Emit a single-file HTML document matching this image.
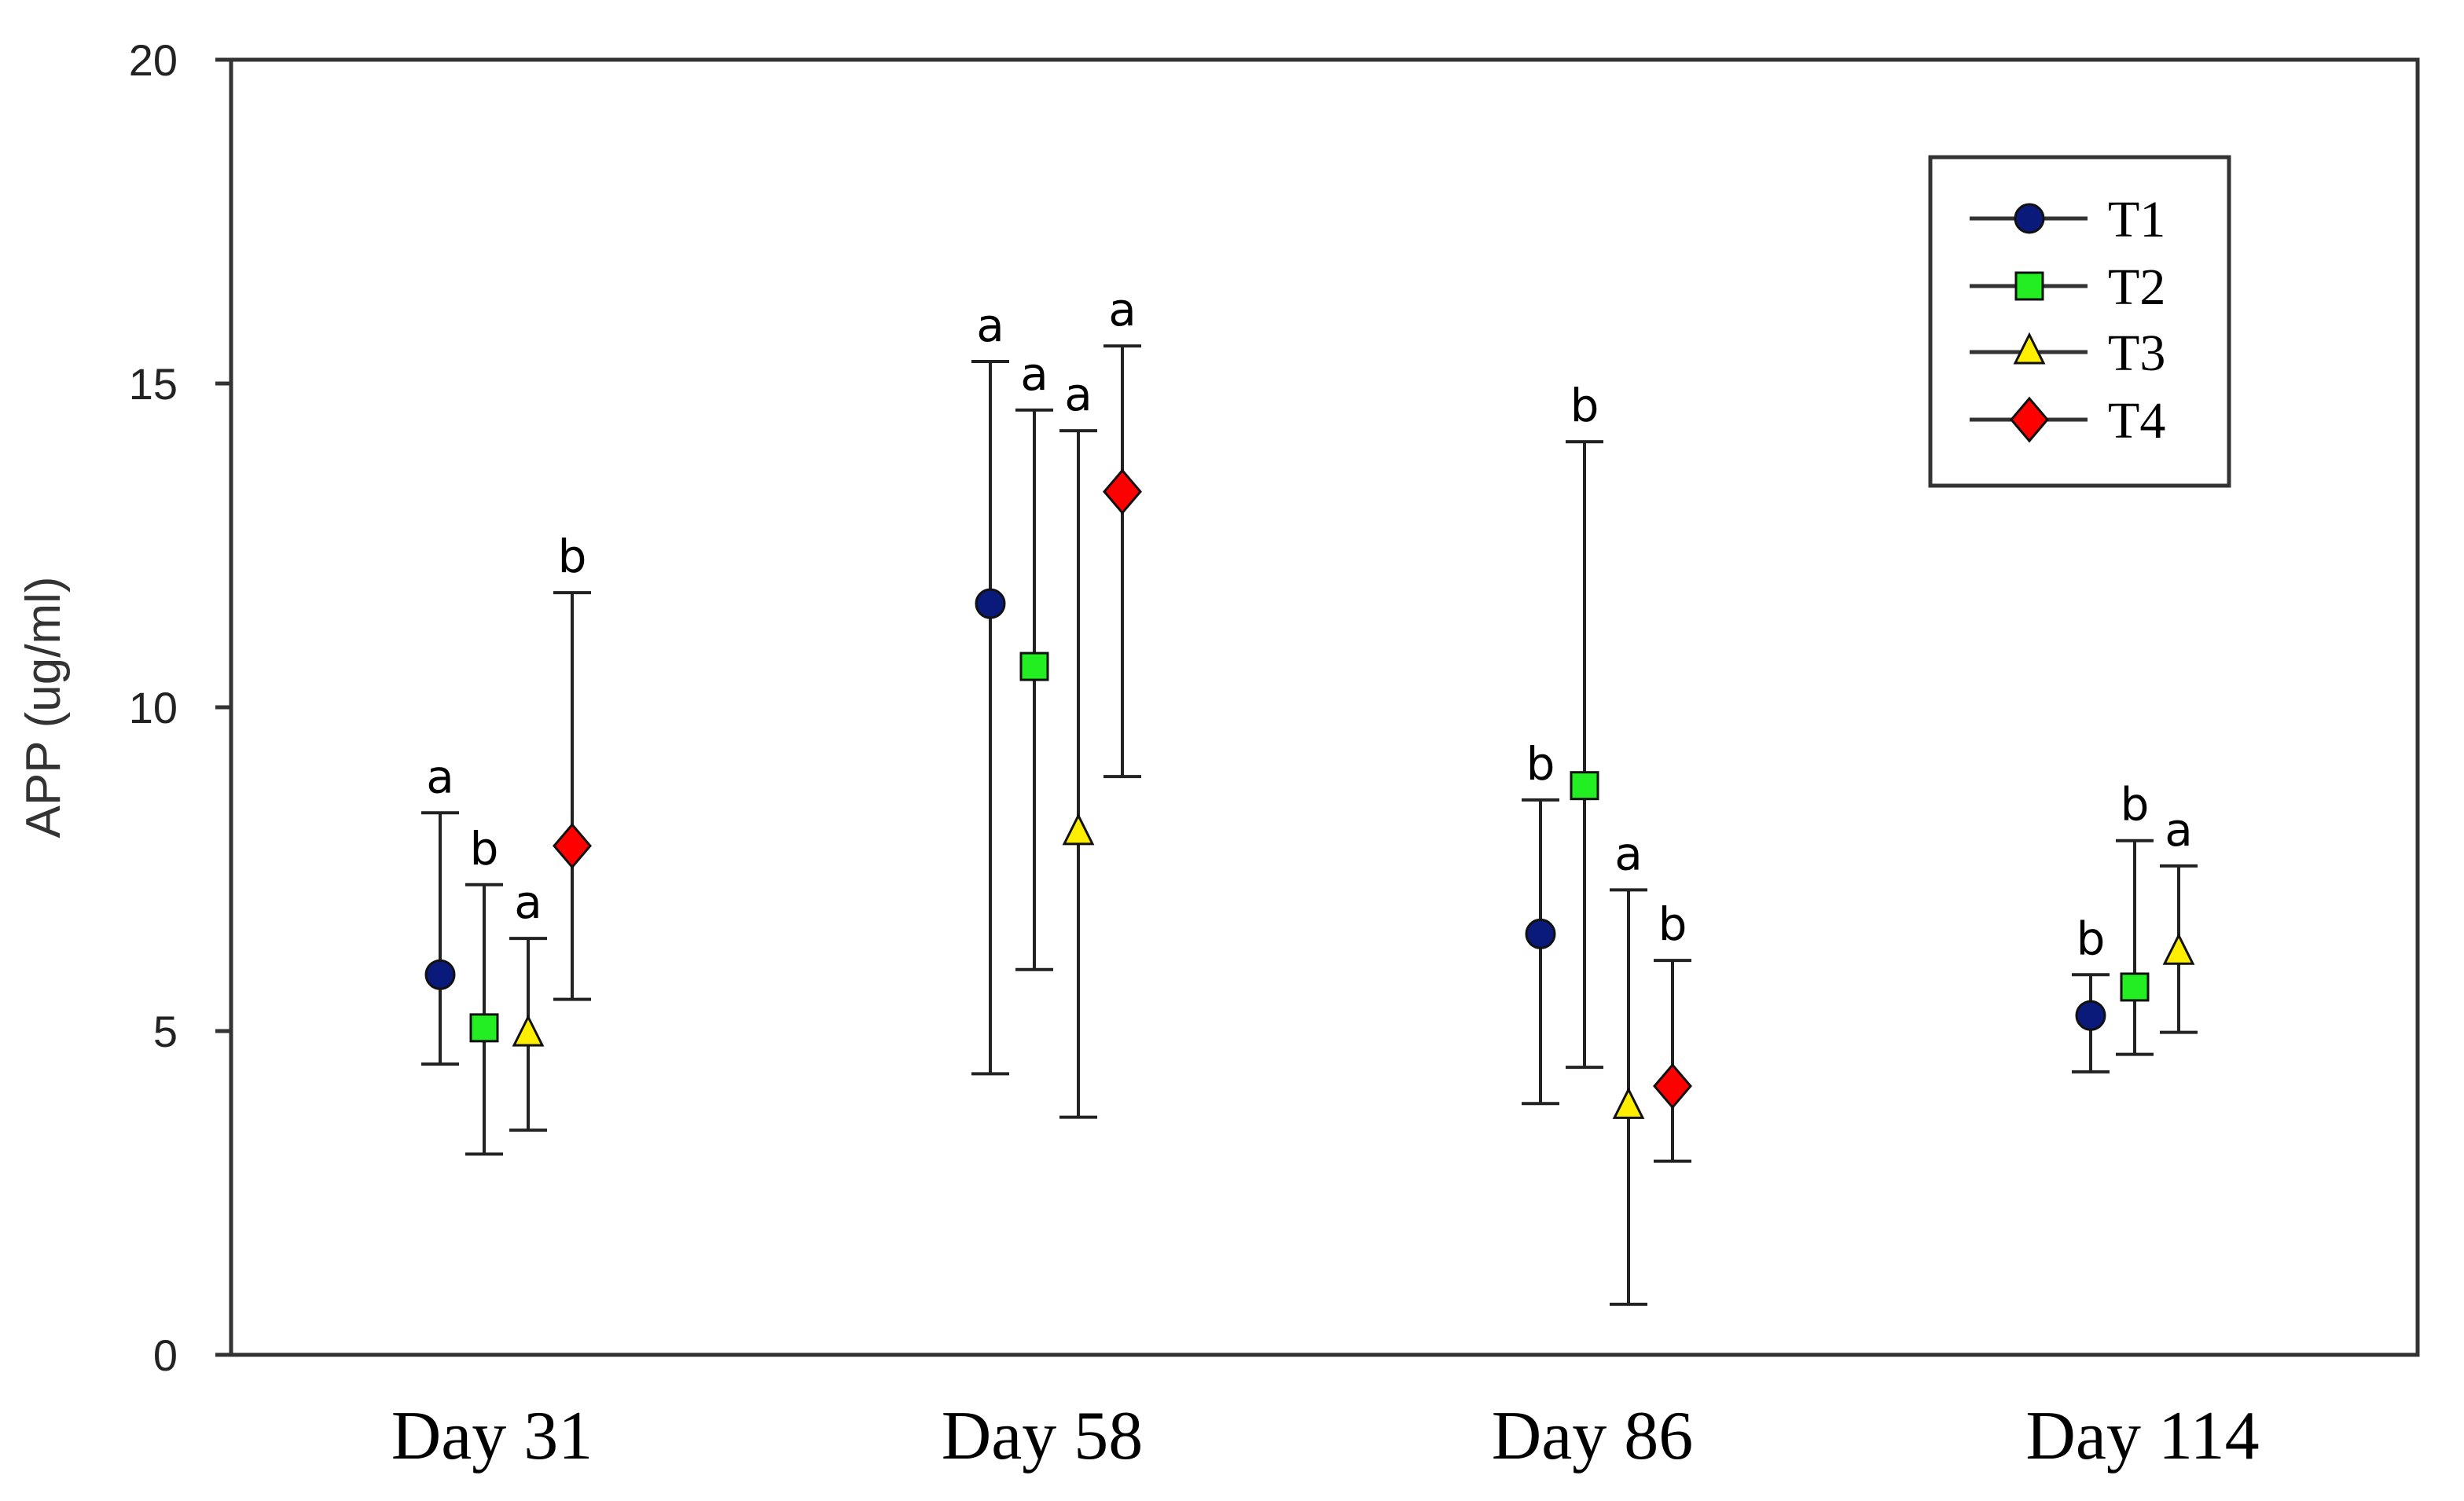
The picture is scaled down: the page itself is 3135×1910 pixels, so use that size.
<!DOCTYPE html>
<html><head><meta charset="utf-8"><style>
html,body{margin:0;padding:0;background:#fff;}
svg{display:block;}
</style></head><body>
<svg id="chart" width="3135" height="1910" viewBox="0 0 3135 1910" xmlns="http://www.w3.org/2000/svg">
<rect x="0" y="0" width="3135" height="1910" fill="#fff"/>
<g id="plot"></g>
</svg>
<script>
const categories = ["Day 31","Day 58","Day 86","Day 114"];
const seriesNames = ["T1","T2","T3","T4"];
const t1Mean = [5.87, 11.6, 6.5, 5.24];
const t1Hi   = [8.37, 15.34, 8.57, 5.87];
const t1Lo   = [4.49, 4.34, 3.88, 4.37];
const t2Mean = [5.05, 10.63, 8.79, 5.68];
const t2Hi   = [7.26, 14.59, 14.1, 7.94];
const t2Lo   = [3.1, 5.95, 4.44, 4.64];
const t3Mean = [4.95, 8.06, 3.83, 6.21];
const t3Hi   = [6.43, 14.27, 7.18, 7.55];
const t3Lo   = [3.47, 3.67, 0.78, 4.98];
const t4Mean = [7.86, 13.33, 4.15, null];
const t4Hi   = [11.77, 15.58, 6.09, null];
const t4Lo   = [5.49, 8.93, 2.99, null];
const t1Letters = ["a","a","b","b"];
const t2Letters = ["b","a","b","b"];
const t3Letters = ["a","a","a","a"];
const t4Letters = ["b","a","b",null];
const yTicks = [0,5,10,15,20];

const NS="http://www.w3.org/2000/svg";
const L=294,T=76,R=3076,B=1724;
const yMin=0,yMax=20;
function yScale(v){return B-(v-yMin)/(yMax-yMin)*(B-T);}
function xBand(i){return 644+i*700;}
const offsets=[-84,-28,28,84];
function xPos(ci,si){return xBand(ci)+offsets[si];}
const g=document.getElementById('plot');
function el(tag,attrs,parent){const e=document.createElementNS(NS,tag);for(const k in attrs)e.setAttribute(k,attrs[k]);(parent||g).appendChild(e);return e;}

const frame=el('rect',{x:L,y:T,width:R-L,height:B-T,fill:'none',stroke:'#333',"stroke-width":5});



yTicks.forEach(v=>{
  const y=yScale(v);
  const tk=el('line',{x1:L-20,x2:L,y1:y,y2:y,stroke:'#333',"stroke-width":5});
  
  
  const tx=el('text',{x:226,y:y+20,"text-anchor":"end","font-family":"Liberation Sans, sans-serif","font-size":56,fill:'#222'});
  tx.textContent=v;
  
  
});
const yt=el('text',{x:0,y:0,transform:'translate(76,900) rotate(-90)',"text-anchor":"middle","font-family":"Liberation Sans, sans-serif","font-size":62,fill:'#333'});
yt.textContent="APP (ug/ml)";



categories.forEach((c,i)=>{
  const tx=el('text',{x:xBand(i)-18,y:1856,"text-anchor":"middle","font-family":"Liberation Serif, serif","font-size":88,fill:'#000'});
  tx.textContent=c;
  
  
});

const means=[t1Mean,t2Mean,t3Mean,t4Mean],his=[t1Hi,t2Hi,t3Hi,t4Hi],los=[t1Lo,t2Lo,t3Lo,t4Lo],letters=[t1Letters,t2Letters,t3Letters,t4Letters];
const fills=['#0a1a7a','#22ee22','#ffee00','#ff0000'];
function marker(si,x,y,parent){
  let m;
  if(si===0) m=el('circle',{cx:x,cy:y,r:18,fill:fills[0],stroke:'#111',"stroke-width":3},parent);
  else if(si===1) m=el('rect',{x:x-17,y:y-17,width:34,height:34,fill:fills[1],stroke:'#111',"stroke-width":3},parent);
  else if(si===2) m=el('polygon',{points:`${x},${y-22} ${x+18},${y+14} ${x-18},${y+14}`,fill:fills[2],stroke:'#111',"stroke-width":3},parent);
  else m=el('polygon',{points:`${x},${y-27} ${x+23},${y} ${x},${y+27} ${x-23},${y}`,fill:fills[3],stroke:'#111',"stroke-width":3},parent);
  return m;
}
seriesNames.forEach((s,si)=>{
  categories.forEach((c,ci)=>{
    const m=means[si][ci]; if(m==null) return;
    const x=xPos(ci,si),yh=yScale(his[si][ci]),yl=yScale(los[si][ci]);
    const eb=el('path',{d:`M${x},${yh}V${yl}M${x-24},${yh}H${x+24}M${x-24},${yl}H${x+24}`,stroke:'#222',"stroke-width":4,fill:'none'});
    
    
    const mk=marker(si,x,yScale(m));
    
    
    const lt=letters[si][ci];
    if(lt){
      const tx=el('text',{x:x,y:yh-26,"text-anchor":"middle","font-family":"DejaVu Sans, sans-serif","font-size":58,fill:'#000'});
      tx.textContent=lt;
      
      
    }
  });
});

const lg=el('g',{});


el('rect',{x:2456,y:200,width:380,height:418,fill:'#fff',stroke:'#333',"stroke-width":5},lg);
const ly=[278,364,448,534];
seriesNames.forEach((s,si)=>{
  const e=el('g',{},lg);
  
  
  el('line',{x1:2506,x2:2656,y1:ly[si],y2:ly[si],stroke:'#333',"stroke-width":5},e);
  marker(si,2582,ly[si],e);
  const tx=el('text',{x:2682,y:ly[si]+23,"font-family":"Liberation Serif, serif","font-size":66,fill:'#000'},e);
  tx.textContent=s;
});
</script>
</body></html>
